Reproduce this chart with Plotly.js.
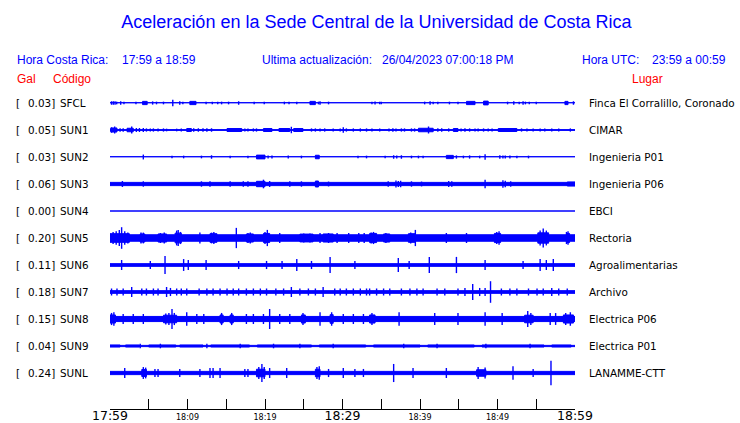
<!DOCTYPE html>
<html><head><meta charset="utf-8">
<script src="https://cdn.plot.ly/plotly-3.0.1.min.js"></script>
<style>html,body{margin:0;padding:0;background:#fff}</style>
</head><body><div id="chart" style="width:740px;height:423px"></div>
<script>
// ---------- data ----------
const stationCodes = ["SFCL","SUN1","SUN2","SUN3","SUN4","SUN5","SUN6","SUN7","SUN8","SUN9","SUNL"];
const peakGal = ["0.03","0.05","0.03","0.06","0.00","0.20","0.11","0.18","0.15","0.04","0.24"];
const places = ["Finca El Corralillo, Coronado","CIMAR","Ingenieria P01","Ingenieria P06","EBCI","Rectoria","Agroalimentarias","Archivo","Electrica P06","Electrica P01","LANAMME-CTT"];
// minutes after 17:59
const tickMinutes = [0,5,10,15,20,25,30,35,40,45,50,55,60];
const majorTickText = ["17:59","","","","","","18:29","","","","","","18:59"];
const minorTickMinutes = [10,20,40,50];
const minorTickText = ["18:09","18:19","18:39","18:49"];
// background noise level of each record (relative amplitude)
const baseLevel = [0.02,0.03,0.02,0.12,0,0.24,0.1,0.1,0.19,0.045,0.12];
// spikes: [minute, relative amplitude]
const sfclSpikes = [[0.2,.13],[0.43,.13],[0.65,.13],[0.86,.1],[1.38,.13],[1.8,.1],[3.35,.1],[5.5,.12],[6.0,.1],[6.9,.1],[8.1,.24],[9.0,.13],[9.4,.1],[12.4,.1],[13.2,.1],[13.9,.1],[14.4,.1],[15.3,.1],[16.6,.13],[18.6,.1],[19.9,.1],[22.5,.1],[23.1,.1],[24.1,.1],[26.9,.1],[27.1,.13],[28.2,.1],[33.8,.1],[34.2,.12],[34.8,.1],[35.0,.1],[40.6,.1],[41.3,.13],[41.7,.1],[42.3,.1],[43.8,.1],[44.9,.1],[51.3,.1],[52.1,.13],[52.8,.1],[53.3,.13],[53.6,.1],[54.1,.1],[55.0,.1],[59.8,.13]];
const sun1Spikes = [[0.2,.2],[0.6,.26],[1.3,.13],[1.7,.13],[2.8,.26],[3.4,.15],[3.8,.15],[4.3,.15],[4.7,.12],[5.2,.12],[5.6,.12],[6.2,.12],[6.9,.12],[7.3,.1],[8.6,.1],[9.2,.12],[10.8,.13],[11.4,.13],[12.0,.13],[12.5,.13],[13.1,.13],[17.4,.12],[17.8,.12],[18.5,.12],[18.9,.12],[23.4,.24],[26.0,.12],[26.5,.12],[27.1,.12],[27.7,.12],[28.8,.12],[29.7,.12],[30.1,.2],[30.5,.12],[31.4,.12],[32.3,.12],[33.1,.12],[33.8,.12],[34.8,.12],[36.0,.12],[36.5,.13],[36.9,.12],[37.6,.12],[38.0,.12],[38.9,.12],[39.3,.12],[41.1,.26],[42.3,.13],[42.8,.13],[43.7,.12],[45.3,.12],[45.8,.13],[46.4,.12],[47.1,.12],[47.5,.12],[48.2,.12],[48.8,.12],[49.3,.12],[53.1,.12],[53.8,.12],[54.6,.12],[55.5,.12],[56.1,.12],[57.0,.12],[57.9,.12],[59.4,.12]];
const sun2Spikes = [[4.3,.18],[8.0,.1],[9.5,.1],[11.8,.1],[13.1,.13],[15.5,.1],[17.8,.1],[20.4,.12],[20.9,.12],[23.0,.12],[24.7,.1],[32.0,.1],[33.1,.1],[35.5,.1],[36.6,.13],[37.0,.12],[37.6,.13],[38.9,.1],[39.8,.1],[40.4,.1],[44.7,.12],[45.6,.1],[46.4,.12],[47.7,.1],[48.4,.2],[50.3,.13],[50.7,.12],[51.0,.12],[51.6,.12],[52.5,.1],[54.0,.1]];
const sun3Spikes = [[1.6,.22],[4.3,.2],[11.8,.2],[12.9,.2],[15.5,.2],[17.2,.2],[17.8,.2],[19.8,.32],[20.6,.22],[23.2,.2],[24.7,.2],[28.2,.18],[35.9,.2],[36.9,.26],[37.2,.22],[37.5,.24],[38.9,.2],[40.2,.18],[43.7,.22],[44.1,.2],[48.4,.32],[50.7,.28],[51.0,.24],[51.7,.2]];
const sun4Spikes = [];
const sun5Spikes = [[0.4,.45],[0.8,.5],[1.2,.6],[1.5,.8],[1.9,.5],[2.3,.4],[4.0,.4],[4.3,.4],[6.5,.37],[7.0,.4],[8.6,.55],[8.8,.6],[9.1,.45],[11.6,.4],[13.1,.4],[13.4,.45],[16.3,.75],[17.8,.37],[18.1,.4],[20.0,.45],[20.3,.6],[21.9,.37],[25.0,.33],[25.8,.33],[27.1,.37],[28.2,.37],[29.3,.37],[30.8,.37],[32.1,.37],[32.8,.37],[33.7,.4],[34.0,.45],[35.6,.37],[38.8,.4],[39.4,.6],[43.4,.37],[46.0,.37],[49.9,.45],[50.2,.5],[55.5,.55],[55.9,.7],[56.3,.55],[58.9,.45],[59.1,.5]];
const sun6Spikes = [[1.5,.37],[5.2,.3],[7.1,.67],[9.5,.44],[10.1,.37],[12.4,.37],[16.6,.3],[20.2,.3],[22.2,.3],[24.1,.44],[26.0,.3],[28.4,.6],[31.6,.3],[37.2,.52],[38.6,.3],[41.2,.6],[44.7,.6],[48.4,.37],[53.3,.3],[55.5,.44],[56.3,.37],[57.2,.44]];
const sun7Spikes = [[0.2,.26],[0.9,.26],[1.7,.26],[2.8,.37],[4.1,.26],[4.7,.26],[5.6,.26],[6.2,.26],[7.3,.37],[7.8,.3],[8.6,.26],[9.2,.26],[9.9,.26],[11.5,.26],[12.5,.26],[13.3,.26],[14.2,.26],[15.1,.26],[15.9,.26],[16.6,.26],[17.6,.26],[18.5,.26],[19.4,.26],[20.2,.26],[21.4,.26],[22.4,.26],[23.4,.37],[24.5,.26],[25.6,.26],[26.5,.26],[27.5,.37],[29.0,.26],[29.7,.26],[30.5,.26],[31.4,.26],[32.3,.26],[33.1,.26],[33.5,.26],[34.4,.26],[35.3,.26],[36.1,.26],[37.6,.26],[38.7,.26],[39.6,.26],[40.4,.26],[42.2,.26],[43.2,.26],[44.9,.26],[45.8,.3],[46.8,.6],[47.7,.3],[48.4,.3],[49.1,.8],[50.5,.26],[51.6,.26],[52.5,.26],[54.0,.26],[55.1,.26],[55.9,.26],[57.0,.3],[57.9,.26],[59.0,.26]];
const sun8Spikes = [[0.2,.45],[0.5,.5],[1.7,.37],[3.0,.37],[4.3,.37],[7.2,.4],[7.6,.45],[8.0,.74],[8.3,.45],[9.9,.5],[11.2,.37],[12.1,.37],[14.4,.45],[15.7,.45],[17.6,.37],[18.5,.37],[19.8,.37],[20.6,.74],[21.9,.37],[23.2,.37],[24.9,.45],[27.1,.5],[28.6,.5],[30.1,.37],[31.4,.37],[32.7,.37],[33.8,.45],[37.3,.5],[41.9,.44],[44.9,.44],[48.4,.5],[50.6,.44],[53.9,.6],[54.3,.45],[56.8,.44],[57.5,.44],[58.8,.45],[59.4,.5]];
const sun9Spikes = [[3.9,.17],[6.5,.17],[12.5,.17],[16.8,.17],[21.1,.17],[24.5,.17],[28.8,.17],[37.9,.17],[42.2,.17],[48.5,.17],[54.2,.17]];
const sunlSpikes = [[1.9,.37],[4.3,.44],[4.6,.4],[5.8,.3],[6.2,.3],[9.0,.3],[11.6,.3],[12.9,.37],[13.3,.37],[14.2,.37],[17.4,.3],[17.8,.3],[19.2,.45],[19.6,.67],[19.9,.45],[20.6,.37],[22.8,.37],[26.7,.45],[27.0,.5],[28.2,.3],[30.1,.37],[31.6,.3],[32.7,.3],[36.6,.67],[39.1,.37],[43.4,.37],[47.5,.45],[48.4,.4],[52.0,.5],[54.6,.3],[56.9,.9]];
// bursts: [start minute, end minute, relative amplitude]
const sfclBursts = [[4.2,4.8,.12],[10.3,11.1,.12],[25.8,26.5,.12],[46.0,47.1,.12],[48.2,48.8,.14],[58.7,59.1,.12]];
const sun1Bursts = [[0.1,0.9,.15],[2.2,3.0,.13],[9.9,10.5,.11],[15.1,17.0,.11],[19.8,20.9,.11],[21.8,23.2,.11],[23.7,24.9,.11],[39.8,41.7,.13],[44.3,44.9,.11],[50.1,52.5,.11]];
const sun2Bursts = [[18.9,20.0,.14],[26.5,27.0,.13],[43.4,44.3,.12]];
const sun3Bursts = [[18.9,20.0,.2],[26.5,26.9,.22],[59.0,60,.15]];
const sun4Bursts = [];
const sun5Bursts = [[0,2.5,.32],[3.9,4.5,.3],[6.2,7.3,.3],[8.4,9.2,.36],[12.9,13.8,.32],[17.6,18.5,.3],[19.8,20.6,.34],[24.5,26.2,.29],[27.5,28.8,.3],[33.5,34.4,.34],[35.3,36.1,.3],[38.5,39.4,.32],[49.6,50.4,.34],[55.2,56.6,.38],[58.9,59.3,.34]];
const sun6Bursts = [];
const sun7Bursts = [];
const sun8Bursts = [[0,0.7,.3],[6.9,8.6,.28],[14.2,14.6,.3],[15.5,15.9,.3],[24.7,25.2,.3],[28.4,28.8,.32],[33.5,34.2,.3],[53.5,54.6,.28],[58.5,59.8,.3]];
const sun9Bursts = [[0,1.3,.075],[2,3.8,.075],[5,8.5,.075],[9,12,.075],[13,18,.075],[19,26,.075],[27,33,.075],[34,40,.075],[41,47,.075],[48,56,.075],[57,59.5,.075]];
const sunlBursts = [[4.1,4.7,.26],[18.9,20.0,.28],[26.5,27.1,.28],[47.3,48.5,.24]];

const spikeSets = [sfclSpikes,sun1Spikes,sun2Spikes,sun3Spikes,sun4Spikes,sun5Spikes,sun6Spikes,sun7Spikes,sun8Spikes,sun9Spikes,sunlSpikes];
const burstSets = [sfclBursts,sun1Bursts,sun2Bursts,sun3Bursts,sun4Bursts,sun5Bursts,sun6Bursts,sun7Bursts,sun8Bursts,sun9Bursts,sunlBursts];

// ---------- drawing ----------
const BLUE = "#0000ff";
const HALF_ROW = 0.5;
const T0 = tickMinutes[0], T1 = tickMinutes[tickMinutes.length-1];
const traces = [];
stationCodes.forEach((code,i)=>{
  const px=[],py=[];
  const addRect=(a0,a1,a)=>{const h=a*HALF_ROW;px.push(a0,a1,a1,a0,a0,null);py.push(i-h,i-h,i+h,i+h,i-h,null);};
  addRect(T0,T1,baseLevel[i]);
  burstSets[i].forEach(b=>addRect(b[0],b[1],b[2]));
  traces.push({x:px,y:py,mode:"lines",fill:"toself",fillcolor:BLUE,line:{color:BLUE,width:1},hoverinfo:"skip",showlegend:false});
  const sx=[],sy=[];
  spikeSets[i].forEach(s=>{const h=s[1]*HALF_ROW;sx.push(s[0],s[0],null);sy.push(i-h,i+h,null);});
  if(sx.length) traces.push({x:sx,y:sy,mode:"lines",line:{color:BLUE,width:1.4},hoverinfo:"skip",showlegend:false});
});
traces.push({x:[T0,T1],y:[0,0],xaxis:"x2",mode:"markers",marker:{opacity:0},hoverinfo:"skip",showlegend:false});

// pixel helpers for text placement
const L=110,R=575,TOP=90,BOT=409;
const pxX = p => (p-L)/(R-L);
const pxY = p => (BOT-p)/(BOT-TOP);
const ann=(text,x,y,anchor,font,yref)=>({text,x:pxX(x),xref:"paper",y:yref?y:pxY(y),yref:yref||"paper",xanchor:anchor,yanchor:"middle",showarrow:false,font});
const fHead={family:"Liberation Sans, Arial, sans-serif",size:12,color:BLUE};
const fRed={family:"Liberation Sans, Arial, sans-serif",size:12,color:"#ff0000"};
const fLab={family:"DejaVu Sans, sans-serif",size:10.4,color:"#000"};
const annotations=[
  ann("Hora Costa Rica:",15,60,"left",fHead),
  ann("17:59 a 18:59",120,60,"left",fHead),
  ann("Ultima actualización:",260,60,"left",fHead),
  ann("26/04/2023 07:00:18 PM",380,60,"left",fHead),
  ann("Hora UTC:",580,60,"left",fHead),
  ann("23:59 a 00:59",650,60,"left",fHead),
  ann("Gal",15,79,"left",fRed),
  ann("Código",51,79,"left",fRed),
  ann("Lugar",630,79,"left",fRed)
];
stationCodes.forEach((code,i)=>{
  annotations.push(ann("[",14,i,"left",fLab,"y"));
  annotations.push(ann(peakGal[i]+"]",57,i,"right",fLab,"y"));
  annotations.push(ann(code,58,i,"left",fLab,"y"));
  annotations.push(ann(places[i],587,i,"left",fLab,"y"));
});

const layout={
  width:740,height:423,
  margin:{l:L,r:740-R,t:TOP,b:423-BOT,pad:0},
  paper_bgcolor:"#fff",plot_bgcolor:"#fff",
  showlegend:false,
  title:{text:"Aceleración en la Sede Central de la Universidad de Costa Rica",
    font:{family:"Liberation Sans, Arial, sans-serif",size:18,color:BLUE},
    x:376.5/740,xref:"container",xanchor:"center",y:1-22/423,yref:"container",yanchor:"middle"},
  xaxis:{range:[T0,T1],tickmode:"array",tickvals:tickMinutes,ticktext:majorTickText,
    ticks:"inside",ticklen:10,tickwidth:1,tickcolor:"#000",showline:true,linecolor:"#000",linewidth:1,
    showgrid:false,zeroline:false,fixedrange:true,ticklabelstandoff:-5,
    tickfont:{family:"DejaVu Sans, sans-serif",size:12.5,color:"#000"}},
  xaxis2:{range:[T0,T1],overlaying:"x",anchor:"y",side:"bottom",tickmode:"array",tickvals:minorTickMinutes,ticktext:minorTickText,
    ticks:"",showline:false,showgrid:false,zeroline:false,fixedrange:true,ticklabelstandoff:2,
    tickfont:{family:"DejaVu Sans, sans-serif",size:8,color:"#000"}},
  yaxis:{range:[stationCodes.length-1+ (BOT-373)/27, -(103-TOP)/27],visible:false,fixedrange:true,showgrid:false,zeroline:false},
  annotations
};
Plotly.newPlot("chart",traces,layout,{staticPlot:true,displayModeBar:false});
</script></body></html>
